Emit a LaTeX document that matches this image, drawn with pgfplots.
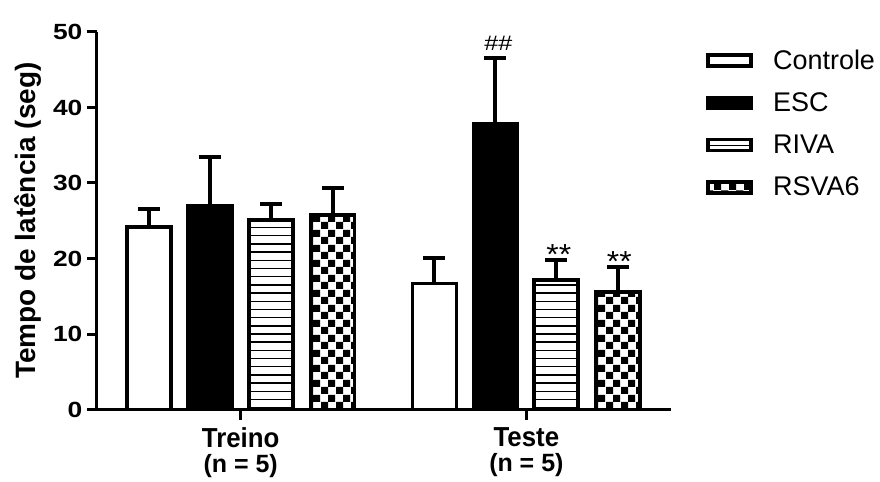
\documentclass[border=0pt]{standalone}
\usepackage{fontspec}
\setmainfont{Liberation Sans}
\newfontfamily\fytick{Liberation Sans Bold}[FakeStretch=1.2]
\newfontfamily\fxtick{Liberation Sans}[FakeStretch=0.94]
\newfontfamily\fhash{Liberation Sans}[FakeStretch=1.2]
\newfontfamily\fstar{Liberation Sans}[FakeStretch=1.1]
\newcommand{\yt}[1]{{\fytick\fontsize{22}{22}\selectfont #1}}
\usepackage{pgfplots}
\pgfplotsset{compat=1.18}
\usetikzlibrary{patterns}
\pgfdeclarepatternformonly{hlinesbig}{\pgfpoint{-1pt}{-1pt}}{\pgfpoint{9pt}{9pt}}{\pgfpoint{8.2pt}{8.2pt}}{%
  \pgfsetlinewidth{1.4pt}\pgfpathmoveto{\pgfpoint{-1pt}{0pt}}\pgfpathlineto{\pgfpoint{9pt}{0pt}}\pgfusepath{stroke}}
\pgfdeclarepatternformonly{checkbig}{\pgfpointorigin}{\pgfpoint{14.6pt}{14.6pt}}{\pgfpoint{14.6pt}{14.6pt}}{%
  \pgfpathrectangle{\pgfpointorigin}{\pgfpoint{7.3pt}{7.3pt}}%
  \pgfpathrectangle{\pgfpoint{7.3pt}{7.3pt}}{\pgfpoint{7.3pt}{7.3pt}}\pgfusepath{fill}}
\begin{document}
\begin{tikzpicture}[x=1pt,y=1pt]
\begin{axis}[
  scale only axis, width=575pt, height=378pt,
  at={(0pt,0pt)}, anchor=south west,
  xmin=97, xmax=672, ymin=0, ymax=50,
  axis x line*=bottom, axis y line*=left,
  axis line style={line width=3pt, -},
  x axis line style={shorten <=-1.5pt},
  ytick={0,10,20,30,40,50},
  yticklabels={\yt{0},\yt{10},\yt{20},\yt{30},\yt{40},\yt{50}},
  xtick={241,527},
  xticklabels={{\fxtick\fontsize{27.5}{25}\selectfont Treino}\\{\fontsize{25}{25}\selectfont(n = 5)},
               {\fxtick\fontsize{27.5}{25}\selectfont Teste}\\{\fontsize{25}{25}\selectfont(n = 5)}},
  xticklabel style={align=center, font=\bfseries\fontsize{25}{25}\selectfont, anchor=north, yshift=-5pt},
  yticklabel style={xshift=-1pt},
  tick style={line width=3pt, black},
  tick align=outside, major tick length=10pt,
  ylabel={Tempo de latência (seg)},
  every axis y label/.style={at={(axis description cs:-0.1191,0.5)}, rotate=90, anchor=center,
     font=\bfseries\fontsize{28}{28}\selectfont},
  ybar, bar width=44pt,
  every axis plot/.append style={line width=3.8pt, draw=black},
  error bars/y dir=plus, error bars/y explicit,
  error bars/error mark=|,
  error bars/error bar style={line width=4pt, black},
  error bars/error mark options={line width=4pt, mark size=11pt, black},
  legend style={draw=none, fill=none, at={(axis cs:704,48.2)}, anchor=north west,
    font=\fontsize{27}{27}\selectfont, row sep=18pt},
  legend cell align=left,
  legend image code/.code={\draw[#1, line width=3.8pt] (0pt,-5.5pt) rectangle (43pt,5.5pt);},
  clip=false,
]
\addplot[fill=white, bar shift=-92pt] coordinates {(241,24.2) +- (0,2.4) (527,16.7) +- (0,3.3)};
\addplot[fill=black, bar shift=-31pt] coordinates {(241,26.9) +- (0,6.6) (527,37.8) +- (0,8.7)};
\addplot[fill=white, postaction={pattern=hlinesbig}, bar shift=30pt] coordinates {(241,25.1) +- (0,2.1) (527,17.2) +- (0,2.6)};
\addplot[fill=white, postaction={pattern=checkbig}, bar shift=92pt] coordinates {(241,25.8) +- (0,3.6) (527,15.6) +- (0,3.3)};
\legend{\hspace*{18pt}Controle,\hspace*{18pt}ESC,\hspace*{18pt}RIVA,\hspace*{18pt}RSVA6}
\node[font=\fhash\fontsize{21}{21}\selectfont, anchor=base, inner sep=0pt] at (axis cs:499,47.6) {\#\#};
\node[font=\fstar\fontsize{29}{29}\selectfont, anchor=base, inner sep=0pt] at (axis cs:559.5,19.2) {**};
\node[font=\fstar\fontsize{29}{29}\selectfont, anchor=base, inner sep=0pt] at (axis cs:620,18.3) {**};
\end{axis}
\path[use as bounding box] (-97pt,-72pt) rectangle (783pt,410pt);
\end{tikzpicture}
\end{document}
